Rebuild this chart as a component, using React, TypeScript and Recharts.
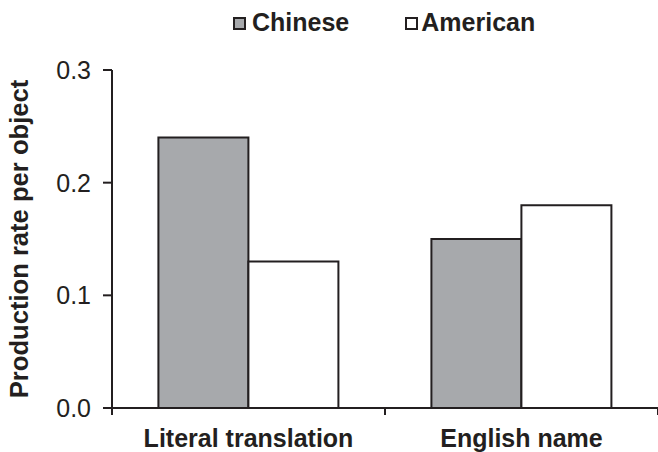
import React from 'react';
import { BarChart, Bar, XAxis, YAxis } from 'recharts';

const categories = ['Literal translation', 'English name'];
const chineseValues = [0.24, 0.15];
const americanValues = [0.13, 0.18];
const yTicks = [0, 0.1, 0.2, 0.3];
const seriesNames = ['Chinese', 'American'];

const INK = '#231f20';
const GRAY = '#a7a9ac';
const FONT = '"Liberation Sans", Arial, sans-serif';

const data = categories.map((c, i) => ({
  name: c,
  Chinese: chineseValues[i],
  American: americanValues[i],
}));

const XTick = (props: any) => {
  const { x, y, payload } = props;
  const half = payload && typeof payload.offset === 'number' && payload.offset > 0 ? payload.offset : 136.25;
  return (
    <g>
      <line x1={x - half} x2={x - half} y1={y} y2={y + 7} stroke={INK} strokeWidth={2} />
      <line x1={x + half} x2={x + half} y1={y} y2={y + 7} stroke={INK} strokeWidth={2} />
      <text
        x={x}
        y={y + 21}
        dy="0.71em"
        textAnchor="middle"
        fill={INK}
        fontFamily={FONT}
        fontWeight="bold"
        fontSize={25}
      >
        {payload.value}
      </text>
    </g>
  );
};

export default function App() {
  const fills = [GRAY, '#ffffff'];
  return (
    <div style={{ position: 'absolute', left: 0, top: 0, width: 658, height: 452, background: '#fff', fontFamily: FONT }}>
      <BarChart
        width={658}
        height={452}
        data={data}
        margin={{ top: 70, right: 0, bottom: 0, left: 0 }}
        barGap={0}
        barCategoryGap="17%"
      >
        <XAxis
          dataKey="name"
          height={44}
          axisLine={{ stroke: INK, strokeWidth: 2 }}
          tickLine={false}
          tickSize={0}
          tickMargin={0}
          tick={<XTick />}
          interval={0}
        />
        <YAxis
          width={112}
          domain={[0, 0.3]}
          ticks={yTicks}
          tickFormatter={(v: number) => v.toFixed(1)}
          axisLine={{ stroke: INK, strokeWidth: 2 }}
          tickLine={{ stroke: INK, strokeWidth: 2 }}
          tickSize={9}
          tickMargin={12}
          tick={{ fill: INK, fontSize: 25, fontFamily: FONT }}
          label={{
            value: 'Production rate per object',
            angle: -90,
            position: 'insideLeft',
            offset: 19,
            style: { textAnchor: 'middle', fill: INK, fontSize: 25.6, fontWeight: 'bold', fontFamily: FONT },
          }}
        />
        <Bar dataKey="Chinese" fill={GRAY} stroke={INK} strokeWidth={2} isAnimationActive={false} />
        <Bar dataKey="American" fill="#ffffff" stroke={INK} strokeWidth={2} isAnimationActive={false} />
      </BarChart>
      <div
        style={{
          position: 'absolute',
          top: 8,
          left: 233,
          display: 'flex',
          fontFamily: FONT,
          fontWeight: 'bold',
          fontSize: 25,
          lineHeight: 'normal',
          color: INK,
          whiteSpace: 'nowrap',
        }}
      >
        {seriesNames.map((n, i) => (
          <div key={n} style={{ display: 'flex', alignItems: 'center', marginRight: i === 0 ? 56 : 0 }}>
            <span
              style={{
                display: 'inline-block',
                width: 9,
                height: 9,
                background: fills[i],
                border: `2px solid ${INK}`,
                marginRight: i === 0 ? 6 : 3,
                marginTop: 2,
              }}
            />
            <span>{n}</span>
          </div>
        ))}
      </div>
    </div>
  );
}
